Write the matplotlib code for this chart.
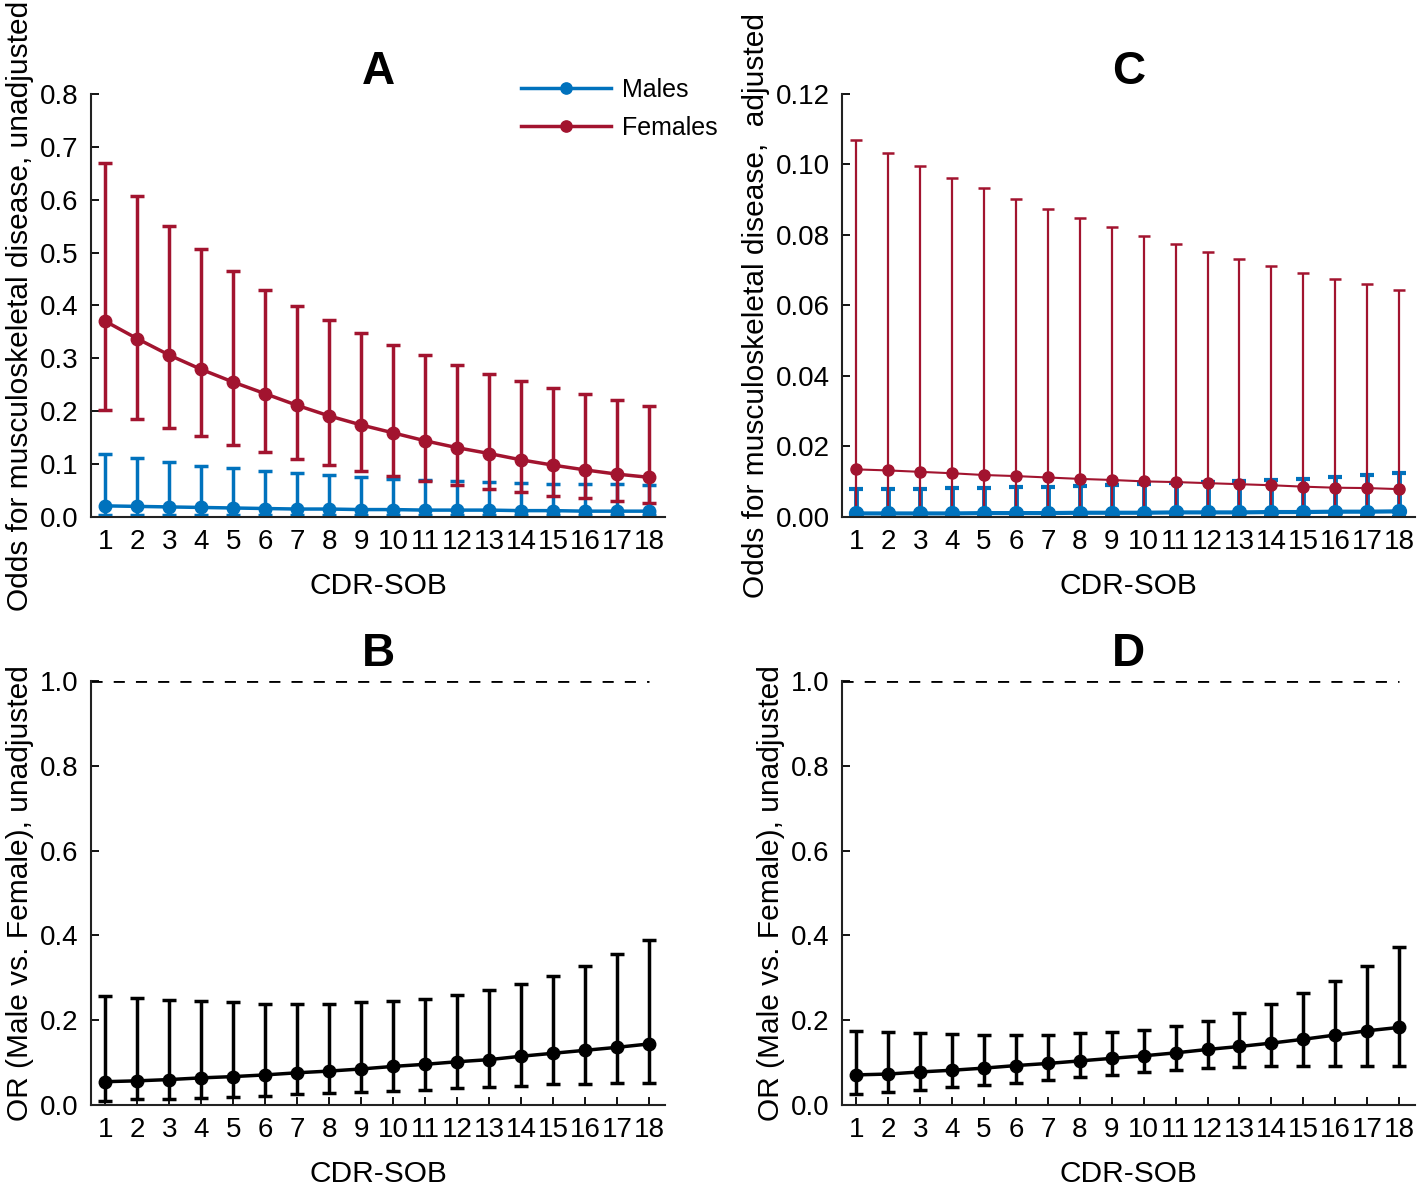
import numpy as np
import matplotlib
matplotlib.use('Agg')
import matplotlib.pyplot as plt

plt.rcParams['font.family'] = ['Liberation Sans', 'DejaVu Sans']

# CDR-SOB levels
cdr = np.arange(1, 19)
tick_labels = [str(v) for v in cdr]

# Panel A: odds, unadjusted
a_f_mean = [0.370, 0.337, 0.306, 0.279, 0.255, 0.233, 0.211, 0.191, 0.174, 0.159,
            0.144, 0.131, 0.120, 0.108, 0.098, 0.089, 0.081, 0.075]
a_f_hi = [0.669, 0.607, 0.551, 0.506, 0.466, 0.430, 0.399, 0.372, 0.347, 0.326,
          0.306, 0.288, 0.271, 0.258, 0.244, 0.232, 0.221, 0.210]
a_f_lo = [0.203, 0.186, 0.169, 0.153, 0.137, 0.123, 0.109, 0.099, 0.087, 0.077,
          0.068, 0.060, 0.052, 0.047, 0.040, 0.035, 0.031, 0.027]
a_m_mean = [0.021, 0.020, 0.019, 0.018, 0.017, 0.016, 0.015, 0.015, 0.014, 0.014,
            0.013, 0.013, 0.013, 0.012, 0.012, 0.011, 0.011, 0.011]
a_m_hi = [0.120, 0.111, 0.104, 0.097, 0.092, 0.087, 0.084, 0.079, 0.075, 0.072,
          0.069, 0.068, 0.066, 0.065, 0.063, 0.063, 0.062, 0.060]
a_m_lo = [0.003, 0.003, 0.003, 0.003, 0.003, 0.003, 0.003, 0.003, 0.003, 0.003,
          0.003, 0.003, 0.003, 0.003, 0.003, 0.003, 0.003, 0.003]

# Panel C: odds, adjusted
c_f_mean = [0.0135, 0.0132, 0.0128, 0.0124, 0.0119, 0.0116, 0.0112, 0.0108, 0.0105, 0.0101,
            0.0099, 0.0096, 0.0093, 0.0090, 0.0086, 0.0083, 0.0082, 0.0079]
c_f_hi = [0.1068, 0.1032, 0.0996, 0.0962, 0.0932, 0.0903, 0.0875, 0.0848, 0.0822, 0.0797,
          0.0775, 0.0752, 0.0732, 0.0712, 0.0693, 0.0675, 0.0660, 0.0643]
c_f_lo = [0.0018, 0.0017, 0.0017, 0.0016, 0.0016, 0.0015, 0.0015, 0.0014, 0.0014, 0.0013,
          0.0013, 0.0012, 0.0012, 0.0011, 0.0011, 0.0010, 0.0010, 0.0009]
c_m_mean = [0.0010, 0.0010, 0.0010, 0.0010, 0.0011, 0.0011, 0.0011, 0.0012, 0.0012, 0.0012,
            0.0013, 0.0013, 0.0013, 0.0014, 0.0014, 0.0015, 0.0015, 0.0016]
c_m_hi = [0.0080, 0.0079, 0.0080, 0.0081, 0.0082, 0.0085, 0.0086, 0.0088, 0.0090, 0.0093,
          0.0096, 0.0099, 0.0101, 0.0105, 0.0109, 0.0113, 0.0119, 0.0125]
c_m_lo = [0.0001, 0.0001, 0.0001, 0.0001, 0.0001, 0.0001, 0.0001, 0.0001, 0.0001, 0.0001,
          0.0001, 0.0001, 0.0001, 0.0001, 0.0001, 0.0001, 0.0001, 0.0001]

# Panel B: OR unadjusted
b_mean = [0.055, 0.057, 0.060, 0.064, 0.067, 0.071, 0.076, 0.080, 0.085, 0.091,
          0.096, 0.102, 0.107, 0.115, 0.122, 0.129, 0.136, 0.144]
b_hi = [0.257, 0.252, 0.248, 0.245, 0.242, 0.239, 0.238, 0.238, 0.242, 0.246,
        0.251, 0.260, 0.271, 0.286, 0.304, 0.328, 0.356, 0.390]
b_lo = [0.010, 0.013, 0.015, 0.017, 0.020, 0.022, 0.025, 0.028, 0.031, 0.033,
        0.036, 0.040, 0.042, 0.045, 0.049, 0.050, 0.052, 0.053]

# Panel D: OR (label reads unadjusted in original)
d_mean = [0.071, 0.073, 0.078, 0.082, 0.087, 0.093, 0.098, 0.104, 0.110, 0.116,
          0.123, 0.131, 0.138, 0.146, 0.155, 0.165, 0.175, 0.183]
d_hi = [0.174, 0.172, 0.169, 0.168, 0.166, 0.166, 0.166, 0.169, 0.173, 0.178,
        0.187, 0.199, 0.217, 0.238, 0.263, 0.293, 0.329, 0.372]
d_lo = [0.027, 0.031, 0.036, 0.042, 0.046, 0.052, 0.059, 0.065, 0.071, 0.077,
        0.082, 0.087, 0.089, 0.091, 0.092, 0.093, 0.092, 0.092]

BLUE = '#0072BD'
RED = '#A2142F'
FS = 20
LFS = 21.5


def errs(mean, lo, hi):
    mean = np.array(mean)
    return [mean - np.array(lo), np.array(hi) - mean]


def style_axes(ax, title, ylabel, tpad):
    for s in ['top', 'right']:
        ax.spines[s].set_visible(False)
    for s in ['left', 'bottom']:
        ax.spines[s].set_linewidth(1.5)
        ax.spines[s].set_color('#222222')
    ax.set_xlim(0.55, 18.5)
    ax.set_xticks(cdr)
    ax.set_xticklabels(tick_labels)
    ax.tick_params(direction='in', length=6, width=1.3, labelsize=FS, pad=9)
    ax.set_xlabel('CDR-SOB', fontsize=LFS, labelpad=12)
    ax.set_ylabel(ylabel, fontsize=LFS, labelpad=4)
    ax.set_title(title, fontsize=33, fontweight='bold', pad=tpad)


fig = plt.figure(figsize=(14.18, 11.86), dpi=100)
axA = fig.add_axes([0.0642, 0.5641, 0.4048, 0.3567])
axC = fig.add_axes([0.5938, 0.5641, 0.4041, 0.3567])
axB = fig.add_axes([0.0642, 0.0683, 0.4048, 0.3575])
axD = fig.add_axes([0.5938, 0.0683, 0.4041, 0.3575])

# A
axA.errorbar(cdr, a_m_mean, yerr=errs(a_m_mean, a_m_lo, a_m_hi), color=BLUE, lw=2.5,
             marker='o', ms=9, capsize=5, capthick=2.5, elinewidth=2.5, label='Males')
axA.errorbar(cdr, a_f_mean, yerr=errs(a_f_mean, a_f_lo, a_f_hi), color=RED, lw=2.5,
             marker='o', ms=9, capsize=5, capthick=2.5, elinewidth=2.5, label='Females')
axA.set_ylim(0, 0.8)
axA.set_yticks(np.arange(0, 0.81, 0.1))
axA.yaxis.set_major_formatter(matplotlib.ticker.FormatStrFormatter('%.1f'))
style_axes(axA, 'A', 'Odds for musculoskeletal disease, unadjusted', 2)
h, l = axA.get_legend_handles_labels()
h = [x[0] for x in h]
fig.legend(h, l, loc='upper left', bbox_to_anchor=(0.3517, 0.9534), frameon=False,
           fontsize=18, handlelength=3.6, handletextpad=0.44, labelspacing=0.55,
           markerscale=0.9)

# C
axC.errorbar(cdr, c_m_mean, yerr=errs(c_m_mean, c_m_lo, c_m_hi), color=BLUE, lw=3,
             marker='o', ms=10, capsize=5, capthick=3, elinewidth=3.5)
axC.errorbar(cdr, c_f_mean, yerr=errs(c_f_mean, c_f_lo, c_f_hi), color=RED, lw=1.5,
             marker='o', ms=8, capsize=4, capthick=1.8, elinewidth=1.6)
axC.set_ylim(0, 0.12)
axC.set_yticks(np.arange(0, 0.121, 0.02))
axC.yaxis.set_major_formatter(matplotlib.ticker.FormatStrFormatter('%.2f'))
style_axes(axC, 'C', 'Odds for musculoskeletal disease,  adjusted', 2)

# B and D
for ax, m, lo, hi, t in [(axB, b_mean, b_lo, b_hi, 'B'), (axD, d_mean, d_lo, d_hi, 'D')]:
    ax.hlines(1.0, 0.55, cdr[-1], colors='black', linestyles=(0, (4, 4)), lw=2)
    ax.errorbar(cdr, m, yerr=errs(m, lo, hi), color='black', lw=2.5, marker='o', ms=9,
                capsize=5, capthick=2.5, elinewidth=2.5)
    ax.set_ylim(0, 1.0)
    ax.set_yticks(np.arange(0, 1.01, 0.2))
    ax.yaxis.set_major_formatter(matplotlib.ticker.FormatStrFormatter('%.1f'))
    style_axes(ax, t, 'OR (Male vs. Female), unadjusted', 11)

fig.savefig('out.png', dpi=100)
